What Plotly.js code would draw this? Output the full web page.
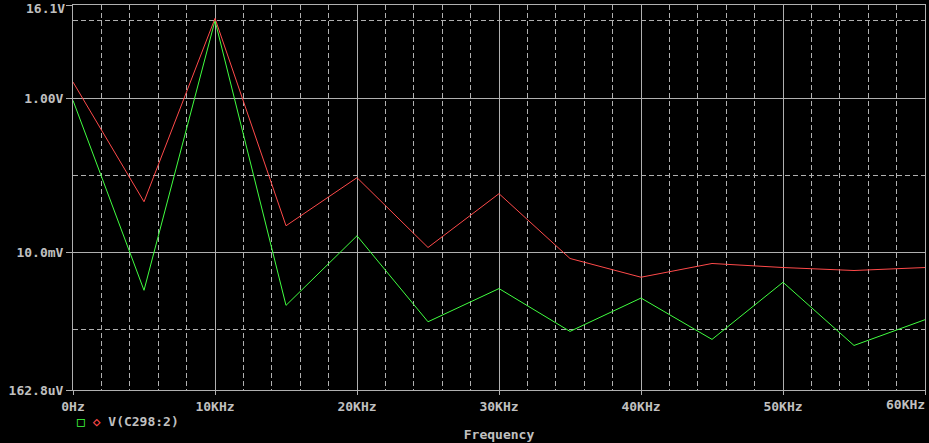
<!DOCTYPE html>
<html>
<head>
<meta charset="utf-8">
<script src="https://cdn.plot.ly/plotly-3.0.1.min.js"></script>
<style>
html,body{margin:0;padding:0;background:#000;}
#chart{width:929px;height:443px;}
</style>
</head>
<body>
<div id="chart"></div>
<script>
// Frequency points (Hz)
const frequencyHz = [0, 5000, 10000, 15000, 20000, 25000, 30000, 35000, 40000, 45000, 50000, 55000, 60000];
// Green trace values (V)
const greenV = [0.93, 0.0032, 10.1, 0.00204, 0.0163, 0.00125, 0.00337, 0.000937, 0.00254, 0.000738, 0.00407, 0.000616, 0.00133];
// Red trace values (V)
const redV = [1.61, 0.0451, 10.8, 0.0220, 0.0926, 0.0115, 0.0574, 0.00828, 0.00473, 0.00713, 0.00632, 0.00578, 0.00632];

const xTickVals = [0, 10000, 20000, 30000, 40000, 50000, 60000];
const xTickText = ['0Hz', '10KHz', '20KHz', '30KHz', '40KHz', '50KHz', ''];
const xLastLabel = '60KHz';
const yTickVals = [162.8e-6, 0.01, 1, 16.0999];
const yTickText = ['162.8uV', '10.0mV', '1.00V', ''];
const yTopLabel = '16.1V';
const yMinorVals = [10, 0.1, 0.001];

const fg = '#c0c0c0';
const gridC = '#b0b0b0';
const fontFam = '"DejaVu Sans Mono", monospace';
const f13 = {family: fontFam, size: 13, color: fg, weight: 'bold'};

const traces = [
  {x: frequencyHz, y: greenV, type: 'scatter', mode: 'lines', line: {color: '#40ff40', width: 1}, hoverinfo: 'none'},
  {x: frequencyHz, y: redV, type: 'scatter', mode: 'lines', line: {color: '#ff4a4a', width: 1}, hoverinfo: 'none'}
];

const layout = {
  width: 929, height: 443,
  paper_bgcolor: '#000', plot_bgcolor: '#000',
  margin: {l: 73, r: 4, t: 5, b: 53},
  showlegend: false,
  font: f13,
  xaxis: {
    type: 'linear', range: [0, 60000], fixedrange: true,
    tickmode: 'array', tickvals: xTickVals, ticktext: xTickText,
    ticks: 'outside', ticklen: 4, tickcolor: gridC, tickwidth: 1,
    showgrid: true, gridcolor: gridC, gridwidth: 1,
    showline: true, linecolor: gridC, linewidth: 1, mirror: true,
    zeroline: false,
    tickfont: f13,
    minor: {tickmode: 'linear', tick0: 0, dtick: 2000, ticks: '', showgrid: true, gridcolor: gridC, gridwidth: 1, griddash: '5px,3px'},
    title: {text: 'Frequency', standoff: 17, font: f13}
  },
  yaxis: {
    type: 'log', range: [Math.log10(162.8e-6), Math.log10(16.1)], fixedrange: true,
    tickmode: 'array', tickvals: yTickVals, ticktext: yTickText,
    ticks: 'outside', ticklen: 6, tickcolor: gridC, tickwidth: 1,
    showgrid: true, gridcolor: gridC, gridwidth: 1,
    showline: true, linecolor: gridC, linewidth: 1, mirror: true,
    zeroline: false,
    tickfont: f13,
    minor: {tickmode: 'array', tickvals: yMinorVals, ticks: '', showgrid: true, gridcolor: gridC, gridwidth: 1, griddash: '5px,3px'}
  },
  annotations: [
    {
      xref: 'paper', yref: 'paper', x: 0, y: 0, xanchor: 'left', yanchor: 'middle',
      xshift: 2, yshift: -31, showarrow: false,
      text: '<span style="color:#40ff40">□</span> <span style="color:#ff4a4a">◇</span> V(C298:2)',
      font: f13
    },
    {
      xref: 'x', yref: 'paper', x: 60000, y: 0, xanchor: 'right', yanchor: 'top',
      xshift: 1, yshift: -6, showarrow: false, borderpad: 0,
      text: xLastLabel, font: f13
    },
    {
      xref: 'paper', yref: 'paper', x: 0, y: 1, xanchor: 'right', yanchor: 'top',
      xshift: -7, yshift: 5, showarrow: false, borderpad: 0,
      text: yTopLabel, font: f13
    }
  ]
};

Plotly.newPlot('chart', traces, layout, {staticPlot: true, displayModeBar: false});
</script>
</body>
</html>
